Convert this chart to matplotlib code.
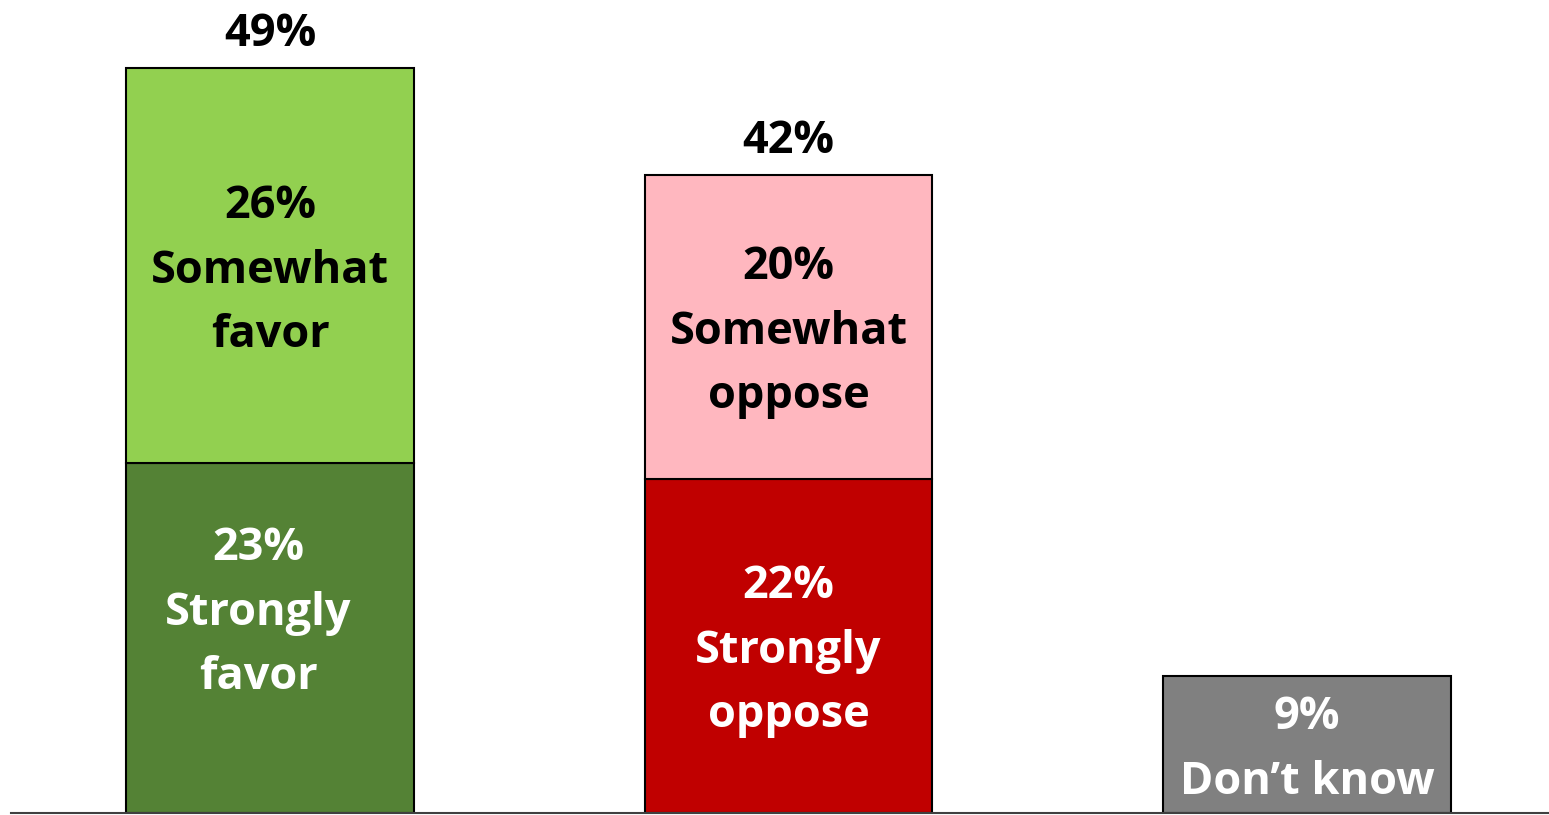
import matplotlib.pyplot as plt

# -------------------------------
# Data
# -------------------------------
groups = ["Favor", "Oppose", "Don't know"]
strong_vals = [23, 22, 9]
some_vals = [26, 20, 0]
strong_labels = ["Strongly\nfavor", "Strongly\noppose", "Don\u2019t know"]
some_labels = ["Somewhat\nfavor", "Somewhat\noppose", ""]

strong_colors = ["#548235", "#C00000", "#808080"]
some_colors = ["#92D050", "#FFB7BF", "#FFFFFF"]

# -------------------------------
# Figure
# -------------------------------
plt.rcParams['font.family'] = ['Open Sans', 'DejaVu Sans']
fig = plt.figure(figsize=(15.49, 8.15), dpi=100)
ax = fig.add_axes([11 / 1549, 2 / 815, 1538 / 1549, 813 / 815])

x = list(range(len(groups)))
width = 0.555
ax.bar(x, strong_vals, width, color=strong_colors, edgecolor="black", linewidth=1.5, zorder=2)
for i in range(len(groups)):
    if some_vals[i] > 0:
        ax.bar(x[i], some_vals[i], width, bottom=strong_vals[i], color=some_colors[i],
               edgecolor="black", linewidth=1.5, zorder=2)

fs = 32.5
ls = 1.58
shift = -0.35  # nudge labels a little lower, as in the original
for i in range(len(groups)):
    if i == 0:
        dx, dy = -0.023, 2.0
    else:
        dx, dy = 0, 0
    ax.text(x[i] + dx, strong_vals[i] / 2 + dy + shift, f"{strong_vals[i]}%\n{strong_labels[i]}",
            ha="center", va="center", color="white", fontsize=fs, fontweight="bold",
            linespacing=ls, zorder=3)
    if some_vals[i] > 0:
        ax.text(x[i], strong_vals[i] + some_vals[i] / 2 + shift, f"{some_vals[i]}%\n{some_labels[i]}",
                ha="center", va="center", color="black", fontsize=fs, fontweight="bold",
                linespacing=ls, zorder=3)
        total = strong_vals[i] + some_vals[i]
        ax.text(x[i], total + 2.2, f"{total}%", ha="center", va="center", color="black",
                fontsize=fs, fontweight="bold", zorder=3)

ax.set_xlim(-0.5, 2.467)
ax.set_ylim(0, 53.5)
for s in ["top", "right", "left"]:
    ax.spines[s].set_visible(False)
ax.spines["bottom"].set_color("#404040")
ax.spines["bottom"].set_linewidth(1.5)
ax.set_xticks([])
ax.set_yticks([])

fig.savefig("out.png", dpi=100)
